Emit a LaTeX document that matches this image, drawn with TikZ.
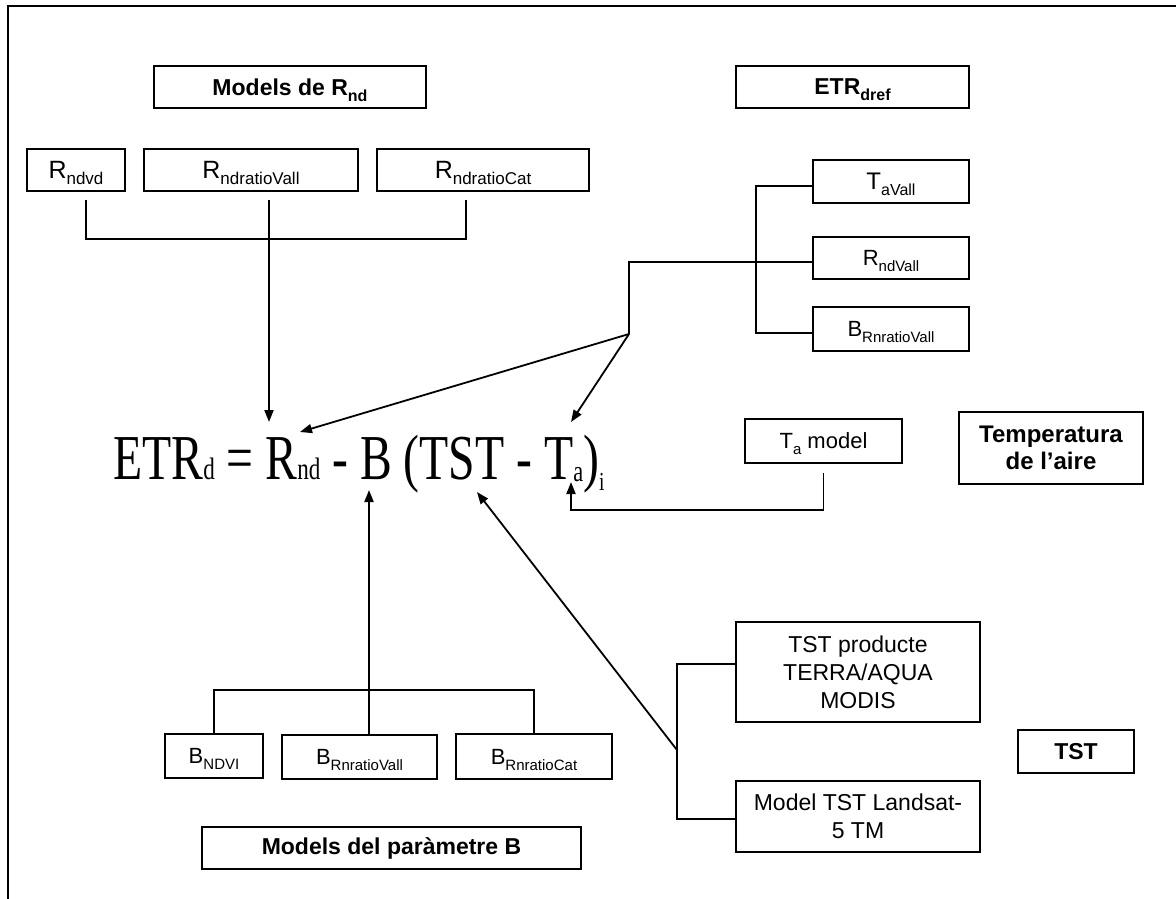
\documentclass[tikz,border=0pt]{standalone}
\usepackage{fontspec}
\setmainfont{Liberation Sans}
\newfontfamily\eqfont{Liberation Serif}
\usetikzlibrary{arrows.meta}
% lowered subscript that does not change the height of the line
\newcommand{\lsub}[2][15]{\raisebox{-6pt}[0pt][0pt]{\fontsize{#1}{#1}\selectfont #2}}

\begin{document}
\begin{tikzpicture}[x=1pt,y=-1pt,
  box/.style={draw, line width=1.6pt, rectangle, inner sep=0pt, align=center,
              font=\fontsize{22}{28}\selectfont},
  titlebox/.style={box, font=\bfseries\fontsize{23}{27}\selectfont},
  wire/.style={line width=1.8pt},
  arr/.style={wire, -{Triangle[length=12pt,width=9pt]}}]

\useasboundingbox (0,0) rectangle (1176,899);
\draw[line width=1.6pt] (1176,6) -- (8,6) -- (8,899);

% titles
\node[titlebox, minimum width=272pt, minimum height=42pt] (mR)  at (290,87)   {Models de R\lsub[16]{nd}};
\node[titlebox, minimum width=233pt, minimum height=42pt] (etr) at (852.5,87) {ETR\lsub[16]{dref}};
\node[titlebox, minimum width=184pt, minimum height=72pt, font=\bfseries\fontsize{24}{27}\selectfont] (temp) at (1051,448) {Temperatura\\de l’aire};
\node[titlebox, minimum width=379pt, minimum height=42pt] (mB)  at (391.5,848) {Models del paràmetre B};
\node[titlebox, minimum width=116pt, minimum height=43pt] (tst) at (1076,751.5) {TST};

% R_nd models
\node[box, minimum width=98pt,  minimum height=42pt, font=\fontsize{25}{28}\selectfont] (r1) at (76,170)  {R\lsub[17]{ndvd}};
\node[box, minimum width=214pt, minimum height=42pt, font=\fontsize{25}{28}\selectfont] (r2) at (251,170) {R\lsub[17]{ndratioVall}};
\node[box, minimum width=212pt, minimum height=42pt, font=\fontsize{25}{28}\selectfont] (r3) at (483,170) {R\lsub[17]{ndratioCat}};

% ETR_dref inputs
\node[box, minimum width=156pt, minimum height=43pt, font=\fontsize{24}{28}\selectfont] (ta) at (891,181.5) {T\lsub[16]{aVall}};
\node[box, minimum width=156pt, minimum height=42pt] (rv) at (891,258)   {R\lsub{ndVall}};
\node[box, minimum width=156pt, minimum height=44pt] (bv) at (891,329)   {B\lsub{RnratioVall}};

% air temperature
\node[box, minimum width=157pt, minimum height=44pt] (tam) at (823.5,441) {T\lsub{a} model};

% B parameter models
\node[box, minimum width=98pt,  minimum height=44pt] (b1) at (214,756)   {B\lsub{NDVI}};
\node[box, minimum width=155pt, minimum height=44pt] (b2) at (359.5,757) {B\lsub{RnratioVall}};
\node[box, minimum width=156pt, minimum height=45pt] (b3) at (534,756.5) {B\lsub{RnratioCat}};

% surface temperature sources
\node[box, minimum width=244pt, minimum height=100pt, font=\fontsize{23}{28}\selectfont] (tst1) at (858,672)   {TST producte\\TERRA/AQUA\\MODIS};
\node[box, minimum width=244pt, minimum height=71pt,  font=\fontsize{23}{28}\selectfont] (tst2) at (858,816.5) {Model TST Landsat-\\5 TM};

% equation
\node[anchor=base west, inner sep=0pt] (eq) at (113,479)
  {\scalebox{0.745}[1]{\eqfont\fontsize{64}{64}\selectfont
   ETR{\fontsize{31}{31}\selectfont d} = R{\fontsize{31}{31}\selectfont nd} - B (TST - T\raisebox{-2pt}{\fontsize{30}{30}\selectfont a})\raisebox{-11pt}{\fontsize{26}{26}\selectfont i}}};

% arrow targets on the equation
\coordinate (tipR)   at (269,422);
\coordinate (tipRnd) at (300,432);
\coordinate (tipTa)  at (571,422);
\coordinate (tipTa2) at (571,482);
\coordinate (tipB)   at (369,490);
\coordinate (tipT)   at (477,492);

% bracket under the R_nd models
\coordinate (rjL) at (86,239);
\coordinate (rjM) at (269,239);
\coordinate (rjR) at (466,239);
\draw[wire] ([xshift=10pt,yshift=-8pt]r1.south) -- (rjL) -- (rjR) -- ([xshift=-17pt,yshift=-8pt]r3.south);
\draw[wire] ([xshift=18pt,yshift=-8pt]r2.south) -- (rjM);
\draw[arr] (rjM) -- (tipR);

% bracket of the ETR_dref inputs
\coordinate (vt) at (756,186);
\coordinate (vb) at (756,333);
\coordinate (jn) at (629,334);
\draw[wire] ([yshift=-4.5pt]ta.west) -- (vt) -- (vb) -- ([yshift=-4pt]bv.west);
\draw[wire] ([yshift=-4pt]rv.west) -| (jn);
\draw[arr] (jn) -- (tipRnd);
\draw[arr] (jn) -- (tipTa);

% air temperature model
\coordinate (tb) at (571,510);
\draw[arr] ([yshift=-9pt]tam.south) |- (tb) -- (tipTa2);

% bracket of the B parameter models
\coordinate (bjM) at (369,690);
\draw[wire] (b1.north) |- (bjM) -| (b3.north);
\draw[arr] ([xshift=9.5pt]b2.north) -- (tipB);

% bracket of the surface temperature sources
\coordinate (tv) at (677,750);
\draw[wire] ([yshift=8pt]tst1.west) -| (tv) |- ([yshift=-2.5pt]tst2.west);
\draw[arr] (tv) -- (tipT);

\end{tikzpicture}
\end{document}
